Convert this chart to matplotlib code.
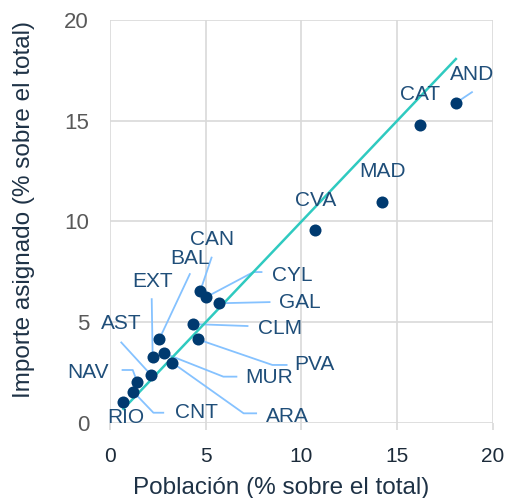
import matplotlib
matplotlib.use("Agg")
import matplotlib.pyplot as plt

plt.rcParams['font.family'] = ['Liberation Sans', 'DejaVu Sans']

regions = ["AND", "CAT", "MAD", "CVA", "CAN", "CYL", "GAL", "CLM", "PVA",
           "BAL", "EXT", "MUR", "ARA", "AST", "NAV", "CNT", "RIO"]
poblacion = [18.06, 16.2, 14.2, 10.7, 4.71, 5.01, 5.67, 4.33, 4.59,
             2.58, 2.23, 2.83, 3.26, 2.15, 1.43, 1.22, 0.70]
importe = [15.88, 14.8, 10.97, 9.58, 6.54, 6.24, 5.94, 4.91, 4.15,
           4.17, 3.29, 3.46, 2.99, 2.38, 2.02, 1.55, 1.06]
ticks = [0, 5, 10, 15, 20]

# label placement (layout only)
label_pos = {
    "AND": (18.9, 17.27), "CAT": (16.18, 16.28), "MAD": (14.24, 12.46),
    "CVA": (10.73, 11.02), "CAN": (5.34, 9.1), "BAL": (4.19, 8.15),
    "EXT": (2.2, 7.0), "CYL": (9.53, 7.34), "GAL": (9.9, 5.96),
    "CLM": (8.9, 4.71), "AST": (0.58, 4.96), "PVA": (10.68, 2.88),
    "MUR": (8.32, 2.28), "NAV": (-1.15, 2.53), "CNT": (4.5, 0.5),
    "ARA": (9.27, 0.3), "RIO": (0.84, 0.25),
}
leaders = {
    "AND": [(18.94, 16.44)],
    "CYL": [(7.49, 7.49), (7.96, 7.49)],
    "GAL": [(8.38, 6.0)],
    "CLM": [(7.23, 4.81)],
    "PVA": [(8.48, 2.88), (9.27, 2.88)],
    "MUR": [(5.92, 2.3), (6.65, 2.3)],
    "ARA": [(6.98, 0.48), (7.68, 0.48)],
    "CNT": [(2.27, 0.51), (2.83, 0.51)],
    "NAV": [(1.19, 2.63), (0.61, 2.63)],
    "AST": [(0.56, 4.03)],
    "EXT": [(2.18, 6.19)],
    "BAL": [(4.19, 7.43)],
    "CAN": [(5.32, 8.25)],
}

fig = plt.figure(figsize=(5.09, 4.98), dpi=100)
ax = fig.add_axes([0.216, 0.1506, 0.7526, 0.8094])
ax.set_xlim(0, 20)
ax.set_ylim(0, 20)
ax.set_xticks(ticks)
ax.set_yticks(ticks)
ax.grid(True, color="#d9d9d9", linewidth=1.2)
ax.set_axisbelow(True)
for s in ax.spines.values():
    s.set_visible(False)
ax.tick_params(axis='x', colors="#d9d9d9", length=5, width=1.2, labelsize=15,
               labelcolor="#1c2b3a", pad=12)
ax.tick_params(axis='y', length=0, labelsize=16, labelcolor="#595959", pad=15)

# leader lines
for name, pts in leaders.items():
    i = regions.index(name)
    xs = [poblacion[i]] + [p[0] for p in pts]
    ys = [importe[i]] + [p[1] for p in pts]
    ax.plot(xs, ys, color="#85c2ff", linewidth=1.3, zorder=2, solid_capstyle='butt')

# 45-degree line over data range
lo, hi = min(poblacion), max(poblacion)
ax.plot([lo, hi], [lo, hi], color="#2fcac0", linewidth=1.8, zorder=3)

ax.scatter(poblacion, importe, s=75, color="#003a70", zorder=4, linewidths=0)

for name in regions:
    x, y = label_pos[name]
    ax.text(x, y, name, fontsize=15, color="#1f4e79", ha="center", va="center",
            zorder=5)

ax.set_xlabel("Población (% sobre el total)", fontsize=17.5, color="#1e3246",
              labelpad=7)
ax.xaxis.set_label_coords(0.447, -0.135)
ax.set_ylabel("Importe asignado (% sobre el total)", fontsize=17.5, color="#1e3246")
ax.yaxis.set_label_coords(-0.195, 0.529)

fig.savefig("out.png", dpi=100)
